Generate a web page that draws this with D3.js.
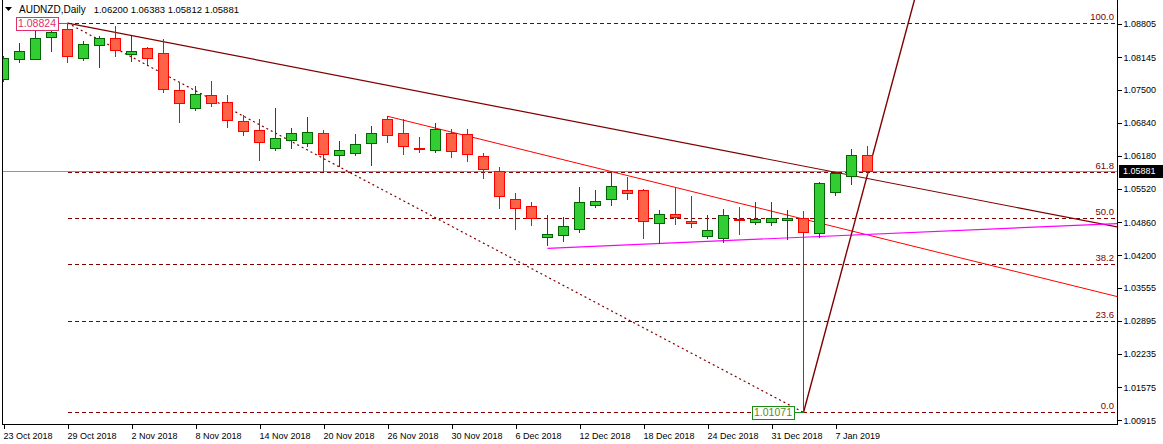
<!DOCTYPE html>
<html><head><meta charset="utf-8">
<script src="https://cdn.jsdelivr.net/npm/d3@7"></script>
<style>
html,body{margin:0;padding:0;background:#fff;}
svg{display:block;font-family:"Liberation Sans",Arial,sans-serif;}
</style></head>
<body>
<svg id="chart" width="1163" height="444"></svg>
<script>
// ---------------- DATA ----------------
const symbol = "AUDNZD,Daily";
const headerOHLC = "1.06200 1.06383 1.05812 1.05881";
const dates = ["2018-10-23","2018-10-24","2018-10-25","2018-10-26","2018-10-29","2018-10-30","2018-10-31",
"2018-11-01","2018-11-02","2018-11-05","2018-11-06","2018-11-07","2018-11-08","2018-11-09",
"2018-11-12","2018-11-13","2018-11-14","2018-11-15","2018-11-16","2018-11-19","2018-11-20","2018-11-21","2018-11-22","2018-11-23",
"2018-11-26","2018-11-27","2018-11-28","2018-11-29","2018-11-30","2018-12-03","2018-12-04","2018-12-05","2018-12-06","2018-12-07",
"2018-12-10","2018-12-11","2018-12-12","2018-12-13","2018-12-14","2018-12-17","2018-12-18","2018-12-19","2018-12-20","2018-12-21",
"2018-12-24","2018-12-26","2018-12-27","2018-12-28","2018-12-31","2019-01-02","2019-01-03","2019-01-04","2019-01-07","2019-01-08","2019-01-09"];
const opens = [1.07705,1.08103,1.08103,1.08532,1.08706,1.08115,1.08373,1.08520,1.08214,1.08327,1.08222,1.07486,1.07139,1.07392,
1.07247,1.06875,1.06690,1.06331,1.06491,1.06431,1.06630,1.06192,1.06224,1.06431,
1.06915,1.06630,1.06337,1.06284,1.06630,1.06610,1.06172,1.05874,1.05317,1.05177,
1.04560,1.04596,1.04732,1.05209,1.05329,1.05502,1.05502,1.04839,1.05018,1.04891,
1.04592,1.04552,1.04931,1.04859,1.04859,1.04891,1.04938,1.04640,1.05456,1.05780,1.06200];
const highs = [1.08160,1.08427,1.08692,1.08706,1.08824,1.08467,1.08566,1.08765,1.08572,1.08341,1.08501,1.07645,1.07571,1.07671,
1.07392,1.06994,1.06909,1.07127,1.06735,1.06954,1.06702,1.06471,1.06616,1.06769,
1.06968,1.06909,1.06556,1.06835,1.06716,1.06716,1.06238,1.05959,1.05442,1.05257,
1.04998,1.04958,1.05561,1.05502,1.05866,1.05760,1.05522,1.05104,1.05541,1.05382,
1.05010,1.05124,1.05163,1.05263,1.05263,1.05104,1.05084,1.05661,1.05854,1.06318,1.06383];
const lows = [1.07680,1.08055,1.08099,1.08274,1.08055,1.08095,1.07955,1.08168,1.08075,1.08003,1.07458,1.06855,1.07100,1.07179,
1.06761,1.06602,1.06099,1.06292,1.06343,1.06383,1.05880,1.05979,1.06204,1.06005,
1.06463,1.06224,1.06264,1.06264,1.06164,1.06085,1.05746,1.05149,1.04732,1.04811,
1.04413,1.04493,1.04672,1.05169,1.05209,1.05323,1.04552,1.04447,1.04831,1.04771,
1.04552,1.04461,1.04632,1.04831,1.04811,1.04521,1.01071,1.04566,1.05408,1.05627,1.05812];
const closes = [1.08122,1.08268,1.08520,1.08640,1.08174,1.08401,1.08520,1.08274,1.08268,1.08134,1.07506,1.07219,1.07412,1.07239,
1.06889,1.06682,1.06451,1.06530,1.06630,1.06650,1.06212,1.06292,1.06411,1.06630,
1.06590,1.06371,1.06312,1.06710,1.06272,1.06212,1.05914,1.05376,1.05137,1.04938,
1.04620,1.04779,1.05263,1.05283,1.05581,1.05436,1.04879,1.05024,1.04950,1.04859,
1.04706,1.05004,1.04911,1.04925,1.04944,1.04938,1.04660,1.05635,1.05840,1.06192,1.05881];
const bidPrice = 1.05881;
const yTickValues = [1.08805,1.08145,1.07500,1.06840,1.06180,1.05520,1.04860,1.04200,1.03555,1.02895,1.02235,1.01575,1.00915];
const xTickBars = [0,4,8,12,16,20,24,28,32,36,40,44,48,52];
// Fibonacci retracement anchors (bar index, price)
const fibHighBar = 4, fibHighPrice = 1.08824;
const fibLowBar = 50, fibLowPrice = 1.01071;
const fibLevels = [0, 23.6, 38.2, 50, 61.8, 100];
// Trend lines (two anchors each, drawn as rays)
const trendStartBar   = [4, 24, 34, 50];
const trendStartPrice = [1.08824, 1.06968, 1.04339, 1.01071];
const trendEndBar     = [53, 38, 54, 54];
const trendEndPrice   = [1.05791, 1.05866, 1.04616, 1.05809];

// ---------------- STYLE ----------------
const trendColors = ["#800000", "#ff0000", "#ff00ff", "#800000"];
const trendWidths = [1.2, 1, 1.2, 1.4];
const bullFill = "#32cd32", bullStroke = "#006400";
const bearFill = "#ff6347", bearStroke = "#ff0000";
const fibColor = "#800000";

// ---------------- LAYOUT ----------------
const W = 1163, H = 444;
const plotLeft = 2, plotRight = 1117, plotBottom = 424;

const svg = d3.select("#chart");
const x = d3.scaleLinear().domain([0, 54]).range([3.5, 867.5]);
const y = d3.scaleLinear().domain([1.00915, 1.08805]).range([420.3, 24]);
const parse = d3.timeParse("%Y-%m-%d");
const fmtDate = d3.timeFormat("%-d %b %Y");
const fmtPrice = d3.format(".5f");
const snap = v => Math.round(v) + 0.5;

svg.append("defs").append("clipPath").attr("id", "plotclip")
  .append("rect").attr("x", plotLeft).attr("y", 0)
  .attr("width", plotRight - plotLeft).attr("height", plotBottom);

const plot = svg.append("g").attr("clip-path", "url(#plotclip)");

// Fibonacci levels
const fibPrice = l => fibLowPrice + (fibHighPrice - fibLowPrice) * l / 100;
plot.selectAll("line.fib").data(fibLevels).join("line")
  .attr("class", "fib")
  .attr("x1", x(fibHighBar)).attr("x2", plotRight)
  .attr("y1", d => snap(y(fibPrice(d)))).attr("y2", d => snap(y(fibPrice(d))))
  .attr("stroke", fibColor).attr("stroke-width", 1).attr("stroke-dasharray", "4,3")
  .attr("shape-rendering", "crispEdges");

// bid line
plot.append("line").attr("x1", plotLeft).attr("x2", plotRight)
  .attr("y1", snap(y(bidPrice))).attr("y2", snap(y(bidPrice)))
  .attr("stroke", "#8c98a4").attr("stroke-width", 1).attr("shape-rendering", "crispEdges");

// fib diagonal (dotted)
plot.append("line")
  .attr("x1", x(fibHighBar)).attr("y1", y(fibHighPrice))
  .attr("x2", x(fibLowBar)).attr("y2", y(fibLowPrice))
  .attr("stroke", fibColor).attr("stroke-width", 1.2).attr("stroke-dasharray", "2,3");

// trend lines (rays)
trendStartBar.forEach((b0, k) => {
  const b1 = trendEndBar[k], p0 = trendStartPrice[k], p1 = trendEndPrice[k];
  const slope = (p1 - p0) / (b1 - b0);
  const bFar = b0 + 200;
  const pFar = p0 + slope * 200;
  plot.append("line")
    .attr("x1", x(b0)).attr("y1", y(p0))
    .attr("x2", x(bFar)).attr("y2", y(pFar))
    .attr("stroke", trendColors[k]).attr("stroke-width", trendWidths[k]);
});

// candles
const idx = d3.range(dates.length);
const candles = plot.append("g").selectAll("g").data(idx).join("g");
candles.append("line")
  .attr("x1", i => x(i)).attr("x2", i => x(i))
  .attr("y1", i => Math.round(y(highs[i]))).attr("y2", i => Math.round(y(lows[i])) + 1)
  .attr("stroke", i => closes[i] >= opens[i] ? bullStroke : bearStroke)
  .attr("stroke-width", 1).attr("shape-rendering", "crispEdges");
candles.append("rect")
  .attr("x", i => x(i) - 5)
  .attr("y", i => snap(y(Math.max(opens[i], closes[i]))))
  .attr("width", 10)
  .attr("height", i => Math.max(1, Math.round(Math.abs(y(opens[i]) - y(closes[i])))))
  .attr("fill", i => closes[i] >= opens[i] ? bullFill : bearFill)
  .attr("stroke", i => closes[i] >= opens[i] ? bullStroke : bearStroke)
  .attr("stroke-width", 1).attr("shape-rendering", "crispEdges");

// fib labels
svg.selectAll("text.fibl").data(fibLevels).join("text")
  .attr("class", "fibl")
  .attr("x", plotRight - 3).attr("y", d => y(fibPrice(d)) - 3)
  .attr("text-anchor", "end").attr("font-size", 9.5).attr("fill", fibColor)
  .text(d => d.toFixed(1));

// price labels on extremes
function priceTag(bar, price, stroke, color) {
  const py = y(price);
  const bw = 42, bh = 13;
  const bx = x(bar) - 10 - bw;
  const g = svg.append("g");
  g.append("line").attr("x1", bx + bw).attr("x2", x(bar)).attr("y1", snap(py)).attr("y2", snap(py))
    .attr("stroke", stroke).attr("stroke-width", 1).attr("shape-rendering", "crispEdges");
  g.append("rect").attr("x", Math.round(bx) + 0.5).attr("y", Math.round(py - bh / 2) + 0.5)
    .attr("width", bw).attr("height", bh).attr("fill", "#fff")
    .attr("stroke", stroke).attr("stroke-width", 1).attr("shape-rendering", "crispEdges");
  g.append("text").attr("x", bx + bw / 2 + 0.5).attr("y", py + 4)
    .attr("text-anchor", "middle").attr("font-size", 10.5).attr("fill", color)
    .text(fmtPrice(price));
}
priceTag(fibHighBar, fibHighPrice, "#e0306a", "#e0306a");
priceTag(fibLowBar, fibLowPrice, "#1a8c1a", "#5a8a1a");

// frame
svg.append("line").attr("x1", 2.5).attr("x2", 2.5).attr("y1", 0).attr("y2", plotBottom + 0.5)
  .attr("stroke", "#000").attr("shape-rendering", "crispEdges");
svg.append("line").attr("x1", plotRight + 0.5).attr("x2", plotRight + 0.5).attr("y1", 0).attr("y2", plotBottom + 0.5)
  .attr("stroke", "#000").attr("shape-rendering", "crispEdges");
svg.append("line").attr("x1", 2).attr("x2", plotRight + 1).attr("y1", plotBottom + 0.5).attr("y2", plotBottom + 0.5)
  .attr("stroke", "#000").attr("shape-rendering", "crispEdges");

// right axis
const yAxis = d3.axisRight(y).tickValues(yTickValues).tickFormat(fmtPrice).tickSize(4).tickSizeOuter(0);
const gy = svg.append("g").attr("transform", `translate(${plotRight + 0.5},0)`).call(yAxis);
gy.select(".domain").remove();
gy.selectAll("text").attr("font-size", 9).attr("font-family", "Liberation Sans, Arial, sans-serif")
  .attr("fill", "#000").attr("x", 6);
gy.selectAll("line").attr("stroke", "#000").attr("shape-rendering", "crispEdges");

// bid tag
const by = y(bidPrice);
svg.append("rect").attr("x", plotRight + 2).attr("y", Math.round(by) - 6).attr("width", W - plotRight - 2).attr("height", 13)
  .attr("fill", "#000");
svg.append("text").attr("x", plotRight + 6).attr("y", by + 3.5).attr("font-size", 9).attr("fill", "#fff")
  .text(fmtPrice(bidPrice));

// bottom axis
const xAxis = d3.axisBottom(x).tickValues(xTickBars).tickFormat(i => fmtDate(parse(dates[i]))).tickSize(4).tickSizeOuter(0);
const gx = svg.append("g").attr("transform", `translate(0,${plotBottom + 0.5})`).call(xAxis);
gx.select(".domain").remove();
gx.selectAll("text").attr("font-size", 9).attr("font-family", "Liberation Sans, Arial, sans-serif")
  .attr("fill", "#000").attr("text-anchor", "start").attr("dx", -0.5).attr("y", 8);
gx.selectAll("line").attr("stroke", "#000").attr("shape-rendering", "crispEdges");

// header
svg.append("path").attr("d", "M5,7 L12,7 L8.5,11 Z").attr("fill", "#000");
const sym = svg.append("text").attr("x", 19).attr("y", 13).attr("font-size", 10).attr("fill", "#000").text(symbol);
const symW = sym.node().getComputedTextLength();
svg.append("text").attr("x", 19 + symW + 8).attr("y", 13).attr("font-size", 9.5).attr("fill", "#000").text(headerOHLC);
</script>
</body></html>
